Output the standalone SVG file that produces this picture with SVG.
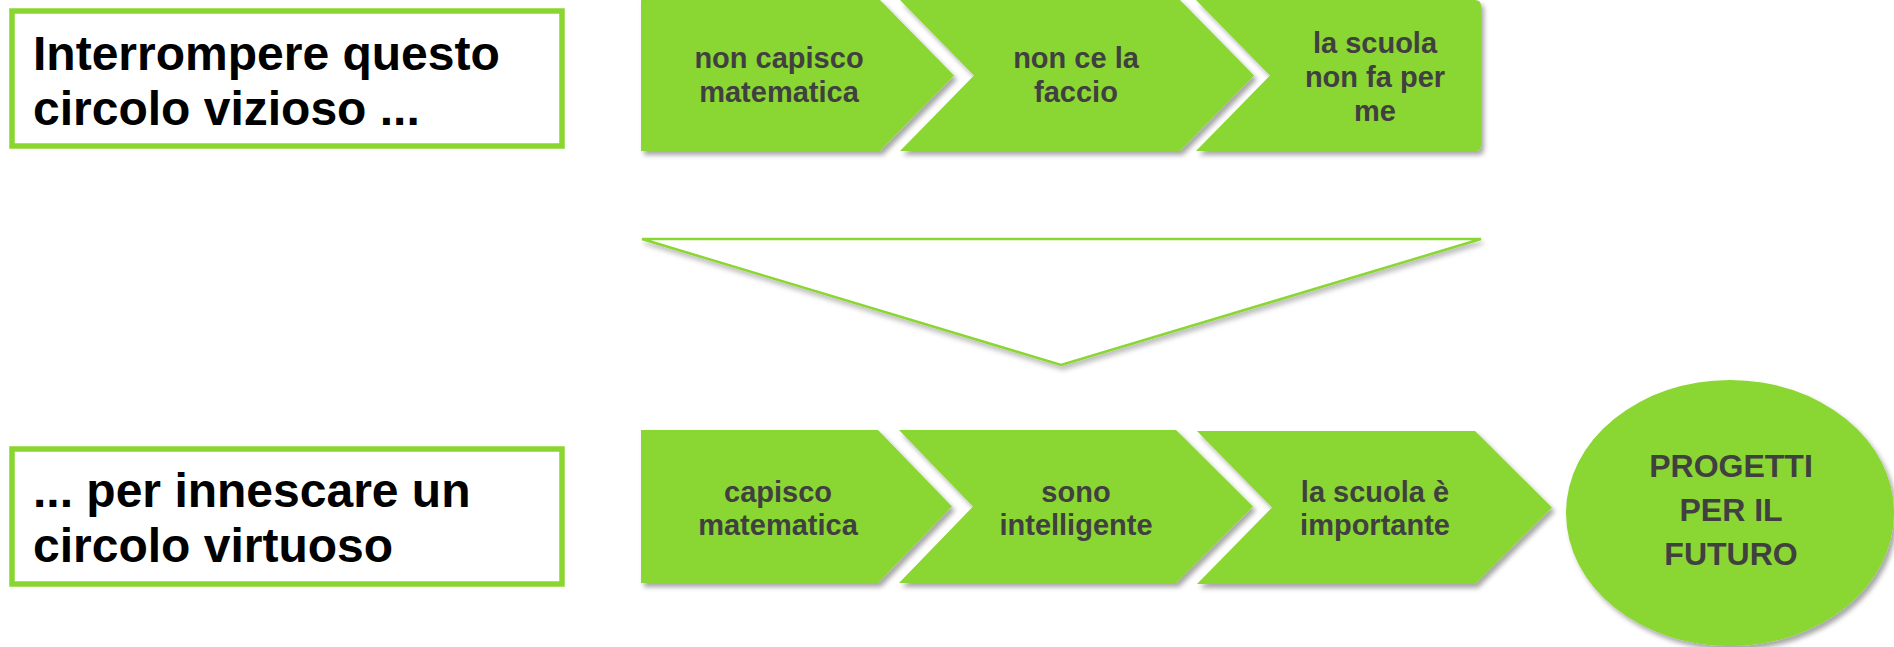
<svg xmlns="http://www.w3.org/2000/svg" width="1894" height="647" viewBox="0 0 1894 647">
<style>
.box{fill:#ffffff;stroke:#8AD630;stroke-width:5.5}
.chev{fill:#8AD630;filter:url(#sh)}
.big{font-family:"Liberation Sans",Arial,sans-serif;font-weight:bold;font-size:48px;fill:#000000}
.ct{font-family:"Liberation Sans",Arial,sans-serif;font-weight:bold;font-size:29px;fill:#404040;text-anchor:middle}
.ot{font-family:"Liberation Sans",Arial,sans-serif;font-weight:bold;font-size:32px;fill:#404040;text-anchor:middle}
.tri{fill:#ffffff;stroke:#8AD630;stroke-width:2.5;stroke-linejoin:miter;filter:url(#sh2)}
</style>
<defs>
<filter id="sh" x="-10%" y="-10%" width="125%" height="130%">
<feDropShadow dx="3" dy="4" stdDeviation="2.5" flood-color="#000000" flood-opacity="0.35"/>
</filter>
<filter id="sh2" x="-5%" y="-10%" width="115%" height="130%">
<feDropShadow dx="2" dy="4" stdDeviation="2.5" flood-color="#000000" flood-opacity="0.25"/>
</filter>
</defs>
<rect width="1894" height="647" fill="#ffffff"/>

<g id="box-top">
<rect class="box" x="12" y="11" width="550" height="135"/>
<text class="big" x="33" y="70">Interrompere questo</text>
<text class="big" x="33" y="125">circolo vizioso ...</text>
</g>

<g id="box-bottom">
<rect class="box" x="12" y="449" width="550" height="135"/>
<text class="big" x="33" y="507">... per innescare un</text>
<text class="big" x="33" y="562">circolo virtuoso</text>
</g>

<g id="chev-top-1">
<polygon class="chev" points="641,0 880,0 954,75.5 880,151 641,151"/>
<text class="ct" x="779" y="68">non capisco</text>
<text class="ct" x="779" y="102">matematica</text>
</g>
<g id="chev-top-2">
<polygon class="chev" points="900,0 1180,0 1254,75.5 1180,151 900,151 974,75.5"/>
<text class="ct" x="1076" y="68">non ce la</text>
<text class="ct" x="1076" y="102">faccio</text>
</g>
<g id="chev-top-3">
<path class="chev" d="M1196,0 H1475 Q1481,0 1481,6 V145 Q1481,151 1475,151 H1196 L1270,75.5 Z"/>
<text class="ct" x="1375" y="53">la scuola</text>
<text class="ct" x="1375" y="87">non fa per</text>
<text class="ct" x="1375" y="121">me</text>
</g>

<g id="connectors">
<polygon class="tri" points="642,239 1481,239 1061,365"/>
</g>

<g id="chev-bot-1">
<polygon class="chev" points="641,430 878,430 952,506.5 878,583 641,583"/>
<text class="ct" x="778" y="502">capisco</text>
<text class="ct" x="778" y="535">matematica</text>
</g>
<g id="chev-bot-2">
<polygon class="chev" points="899,430 1176,430 1253,506.5 1176,583 899,583 973,506.5"/>
<text class="ct" x="1076" y="502">sono</text>
<text class="ct" x="1076" y="535">intelligente</text>
</g>
<g id="chev-bot-3">
<polygon class="chev" points="1197,431 1475,431 1552,507.5 1475,584 1197,584 1272,507.5"/>
<text class="ct" x="1375" y="502">la scuola è</text>
<text class="ct" x="1375" y="535">importante</text>
</g>

<g id="oval-future">
<ellipse cx="1730" cy="513" rx="164" ry="133" fill="#8AD630" filter="url(#sh)"/>
<text class="ot" x="1731" y="477">PROGETTI</text>
<text class="ot" x="1731" y="521">PER IL</text>
<text class="ot" x="1731" y="565">FUTURO</text>
</g>
</svg>
